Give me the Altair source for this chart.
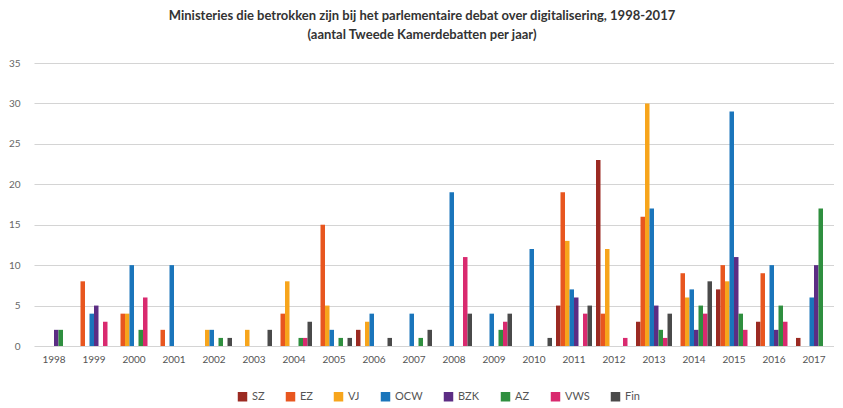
import altair as alt
import pandas as pd

years = [str(y) for y in range(1998, 2018)]
ministries = ["SZ", "EZ", "VJ", "OCW", "BZK", "AZ", "VWS", "Fin"]
colors = ["#9b2a22", "#e8561f", "#f7a51c", "#1a75bb", "#5c2d84", "#2f8f3f", "#d92a6f", "#4a4a4a"]

# values per year 1998..2017
SZ  = [0, 0, 0, 0, 0, 0, 0, 0, 2, 0, 0, 0, 0, 5, 23, 3, 0, 7, 3, 1]
EZ  = [0, 8, 4, 2, 0, 0, 4, 15, 0, 0, 0, 0, 0, 19, 4, 16, 9, 10, 9, 0]
VJ  = [0, 0, 4, 0, 2, 2, 8, 5, 3, 0, 0, 0, 0, 13, 12, 30, 6, 8, 0, 0]
OCW = [0, 4, 10, 10, 2, 0, 0, 2, 4, 4, 19, 4, 12, 7, 0, 17, 7, 29, 10, 6]
BZK = [2, 5, 0, 0, 0, 0, 0, 0, 0, 0, 0, 0, 0, 6, 0, 5, 2, 11, 2, 10]
AZ  = [2, 0, 2, 0, 1, 0, 1, 1, 0, 1, 0, 2, 0, 0, 0, 2, 5, 4, 5, 17]
VWS = [0, 3, 6, 0, 0, 0, 1, 0, 0, 0, 11, 3, 0, 4, 1, 1, 4, 2, 3, 0]
Fin = [0, 0, 0, 0, 1, 2, 3, 1, 1, 2, 4, 4, 1, 5, 0, 4, 8, 0, 0, 0]

title_lines = [
    "Ministeries die betrokken zijn bij het parlementaire debat over digitalisering, 1998-2017",
    "(aantal Tweede Kamerdebatten per jaar)",
]

rows = []
for m, vals in zip(ministries, [SZ, EZ, VJ, OCW, BZK, AZ, VWS, Fin]):
    for y, v in zip(years, vals):
        rows.append({"jaar": y, "ministerie": m, "aantal": v})
df = pd.DataFrame(rows)

chart = alt.Chart(df).mark_bar().encode(
    x=alt.X("jaar:N", sort=years,
            scale=alt.Scale(paddingInner=0.1, paddingOuter=0.05),
            axis=alt.Axis(title=None, labelAngle=0, ticks=False, domain=False,
                          labelFontSize=10, labelColor="#555555", labelPadding=8)),
    xOffset=alt.XOffset("ministerie:N", scale=alt.Scale(domain=ministries)),
    y=alt.Y("aantal:Q", scale=alt.Scale(domain=[0, 35]),
            axis=alt.Axis(values=list(range(0, 36, 5)), title=None, ticks=False, domain=False,
                          gridColor="#d4d4d4", gridWidth=1.2, labelColor="#666666",
                          labelFontSize=10, labelPadding=14)),
    color=alt.Color("ministerie:N", scale=alt.Scale(domain=ministries, range=colors),
                    legend=alt.Legend(title=None, orient="none", direction="horizontal",
                                      legendX=203, legendY=328, symbolType="square",
                                      symbolSize=90, symbolStrokeWidth=0,
                                      columnPadding=20, labelFontSize=11,
                                      labelColor="#555555")),
).properties(
    width=800,
    height=283,
    padding={"top": 2, "left": 0, "right": 0, "bottom": 0},
    title=alt.Title(title_lines, fontSize=13, fontWeight="bold", color="#333333",
                    anchor="middle", offset=16, lineHeight=19, dx=-12),
).configure(font="Lato").configure_view(stroke=None)

chart.save("out.html", embed_options={"renderer": "svg", "actions": False})
